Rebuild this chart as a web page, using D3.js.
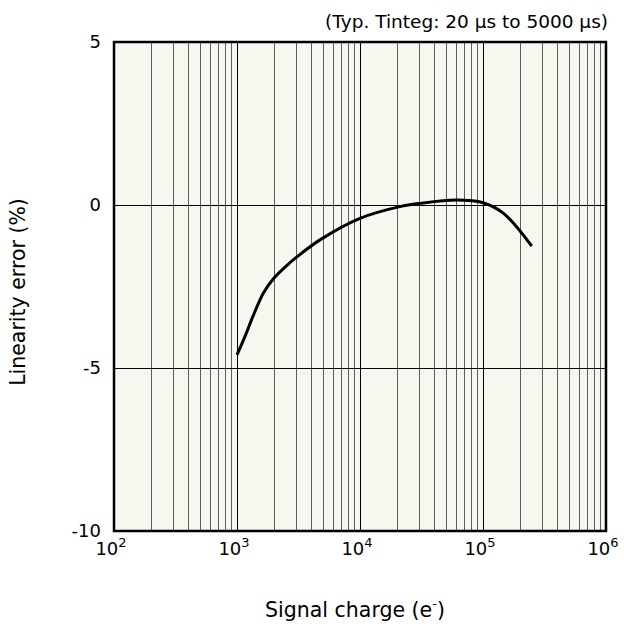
<!DOCTYPE html>
<html><head><meta charset="utf-8">
<script src="https://cdn.jsdelivr.net/npm/d3@7"></script>
<style>body{margin:0;background:#fff}</style>
</head><body>
<svg id="c" width="624" height="630"></svg>
<script>
const charge = [1000, 1180, 1360, 1640, 1970, 2500, 3050, 4730, 10000, 21100, 30900, 61000, 100000, 146000, 249000];
const linErr = [-4.6, -3.97, -3.38, -2.7, -2.27, -1.88, -1.6, -1.07, -0.41, -0.05, 0.05, 0.15, 0.07, -0.25, -1.26];
const yTicks = [5, 0, -5, -10];
const xDecades = [2, 3, 4, 5, 6];

const svg = d3.select("#c");
const L = 114, R = 606, T = 42, B = 531;
const x = d3.scaleLog().domain([1e2, 1e6]).range([L, R]);
const y = d3.scaleLinear().domain([-10, 5]).range([B, T]);
const font = "DejaVu Sans";

svg.append("rect").attr("x", L).attr("y", T).attr("width", R - L).attr("height", B - T).attr("fill", "#f7f6ef");

// minor grid
const minors = [];
for (let d = 2; d < 6; d++) for (let m = 2; m <= 9; m++) minors.push(m * Math.pow(10, d));
svg.append("g").selectAll("line").data(minors).join("line")
  .attr("x1", d => Math.round(x(d)) + 0.5).attr("x2", d => Math.round(x(d)) + 0.5)
  .attr("y1", T).attr("y2", B).attr("stroke", "#5e5e5e").attr("stroke-width", 1);
// major grid
svg.append("g").selectAll("line").data(xDecades.slice(1, -1)).join("line")
  .attr("x1", d => Math.round(x(Math.pow(10, d))) + 0.5).attr("x2", d => Math.round(x(Math.pow(10, d))) + 0.5)
  .attr("y1", T).attr("y2", B).attr("stroke", "#000").attr("stroke-width", 1);
svg.append("g").selectAll("line").data([0, -5]).join("line")
  .attr("x1", L).attr("x2", R).attr("y1", d => Math.round(y(d)) + 0.5).attr("y2", d => Math.round(y(d)) + 0.5)
  .attr("stroke", "#000").attr("stroke-width", 1);

// border
svg.append("rect").attr("x", L).attr("y", T).attr("width", R - L).attr("height", B - T)
  .attr("fill", "none").attr("stroke", "#000").attr("stroke-width", 2.5);

// curve
const line = d3.line().x((d, i) => x(charge[i])).y((d, i) => y(linErr[i])).curve(d3.curveCatmullRom.alpha(0.5));
svg.append("path").attr("d", line(charge)).attr("fill", "none").attr("stroke", "#000")
  .attr("stroke-width", 3).attr("stroke-linecap", "butt");

// y tick labels
svg.append("g").selectAll("text").data(yTicks).join("text")
  .attr("x", L - 13).attr("y", d => y(d) + 6).attr("text-anchor", "end")
  .attr("font-family", font).attr("font-size", 18).text(d => d);

// x tick labels
const xl = svg.append("g").selectAll("text").data(xDecades).join("text")
  .attr("x", d => x(Math.pow(10, d)) - 3).attr("y", B + 24).attr("text-anchor", "middle")
  .attr("font-family", font).attr("font-size", 18);
xl.append("tspan").text("10");
xl.append("tspan").attr("dy", -8).attr("font-size", 13).text(d => d);

// title
svg.append("text").attr("x", R + 2).attr("y", 28).attr("text-anchor", "end")
  .attr("font-family", font).attr("font-size", 18.5).text("(Typ. Tinteg: 20 µs to 5000 µs)");

// axis titles
const xt = svg.append("text").attr("x", 355).attr("y", 617).attr("text-anchor", "middle")
  .attr("font-family", font).attr("font-size", 20.5);
xt.append("tspan").text("Signal charge (e");
xt.append("tspan").attr("dy", -9).attr("font-size", 13).text("-");
xt.append("tspan").attr("dy", 9).text(")");

svg.append("text").attr("transform", "translate(25,292) rotate(-90)").attr("text-anchor", "middle")
  .attr("font-family", font).attr("font-size", 20.5).text("Linearity error (%)");
</script>
</body></html>
